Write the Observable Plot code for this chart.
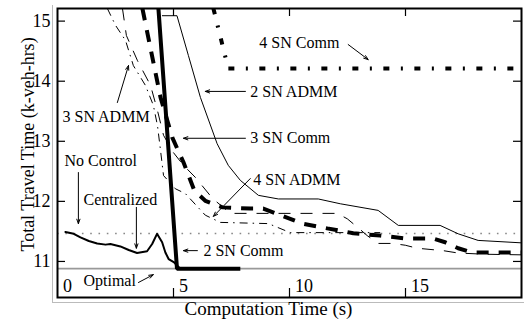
<!DOCTYPE html>
<html><head><meta charset="utf-8">
<script src="https://cdn.jsdelivr.net/npm/d3@7"></script>
<script src="https://cdn.jsdelivr.net/npm/@observablehq/plot@0.6"></script>
<style>body{margin:0;background:#fff;} svg{display:block}</style>
</head><body><div id="chart"></div>
<script>
// ---- data ----
const xTicks = [0, 5, 10, 15];
const yTicks = [11, 12, 13, 14, 15];
const xDomain = [0, 20];
const yDomain = [10.4, 15.21];
const optimal = 10.88;
const noControl = 11.465;

const centralized = [[0.34,11.49],[0.70,11.46],[0.99,11.40],[1.35,11.34],[1.71,11.30],[2.07,11.28],[2.28,11.29],[2.71,11.25],[3.07,11.19],[3.43,11.14],[3.86,11.17],[4.08,11.29],[4.29,11.46],[4.51,11.32],[4.65,11.15],[4.79,11.04],[5.01,10.99],[5.16,10.93],[5.3,10.88]];
const comm2SN = [[4.35,15.21],[5.15,10.88],[7.88,10.88]];
const admm2SN = [[4.52,15.09],[5.15,15.09],[5.64,14.43],[6.16,13.73],[6.88,12.96],[7.36,12.60],[7.88,12.35],[8.66,12.10],[9.52,12.04],[11.24,12.04],[12.19,11.96],[13.82,11.85],[14.69,11.60],[16.49,11.60],[17.27,11.46],[18.13,11.35],[19.98,11.31]];
const comm3SN = [[3.66,15.21],[4.44,13.73],[4.95,13.06],[5.43,12.65],[5.90,12.18],[6.37,12.01],[7.11,11.90],[8.31,11.88],[8.87,11.88],[10.03,11.71],[10.55,11.63],[11.63,11.55],[12.75,11.47],[13.91,11.43],[15.07,11.38],[16.19,11.38],[16.71,11.32],[17.27,11.22],[17.87,11.15],[19.98,11.15]];
const admm3SN = [[2.15,15.21],[2.50,14.93],[2.93,14.68],[3.27,14.26],[3.79,13.93],[4.13,13.60],[4.31,13.26],[4.44,12.85],[4.57,12.43],[5.08,12.21],[5.51,12.13],[6.37,11.77],[7.02,11.65],[9.09,11.63],[10.03,11.48],[13.91,11.48]];
const comm4SN = [[6.72,15.21],[7.36,14.21],[19.98,14.21]];
const admm4SN = [[2.80,15.21],[2.97,14.76],[3.45,14.34],[4.01,13.93],[4.31,13.51],[4.57,13.10],[5.00,12.81],[5.43,12.60],[5.94,12.40],[6.68,12.05],[7.45,11.80],[12.06,11.80],[12.49,11.71],[12.96,11.56],[13.35,11.43],[13.82,11.30],[14.43,11.30],[14.99,11.27],[15.50,11.22],[16.62,11.18],[17.27,11.14],[18.43,11.12],[19.98,11.11]];

const labels = ["4 SN Comm","2 SN ADMM","3 SN Comm","3 SN ADMM","No Control","Centralized","2 SN Comm","Optimal","4 SN ADMM"];
// annotation layout (label anchor and arrow ends, in chart units)
const labelAt = [[8.70,14.644],[8.31,13.83],[8.31,13.05],[0.215,13.40],[0.30,12.68],[1.12,12.03],[6.29,11.18],[1.12,10.68],[8.44,12.35]];
const arrowAt = [[12.53,14.61,13.39,14.36],[8.10,13.83,6.37,13.83],[8.10,13.05,5.43,13.05],[2.58,13.645,3.06,14.26],[0.90,12.48,0.90,11.63],[3.40,11.90,3.40,11.22],[6.03,11.18,5.43,11.18],[3.49,10.65,4.13,10.78],[8.31,12.38,6.72,11.75]];

// ---- layout ----
const W = 524, H = 322, mL = 57, mR = 3, mT = 8, mB = 25;
const fw = W - mL - mR, fh = H - mT - mB;
const font = "'Liberation Serif', 'Times New Roman', serif";
const X = d => d[0], Y = d => d[1];
const ann = labels.map((t, i) => ({t, x: labelAt[i][0], y: labelAt[i][1]}));

const chart = Plot.plot({
  width: W, height: H,
  marginLeft: mL, marginRight: mR, marginTop: mT, marginBottom: mB,
  x: {domain: xDomain, axis: null},
  y: {domain: yDomain, axis: null},
  style: {fontFamily: font, background: "white", overflow: "visible"},
  marks: [
    Plot.ruleX([xDomain[0]], {stroke: "#bbb", strokeWidth: 1, dx: -5, insetTop: -3, insetBottom: -5}),
    Plot.ruleY([yDomain[0]], {stroke: "#bbb", strokeWidth: 1, dy: 5, insetLeft: -5, insetRight: -3}),
    Plot.ruleY([optimal], {stroke: "#999", strokeWidth: 1.8}),
    Plot.ruleY([noControl], {stroke: "#888", strokeWidth: 1.6, strokeDasharray: "1.6,6.7"}),
    Plot.line(admm2SN, {x: X, y: Y, stroke: "black", strokeWidth: 1, clip: true}),
    Plot.line(admm4SN, {x: X, y: Y, stroke: "black", strokeWidth: 1, strokeDasharray: "12,10", strokeLinecap: "butt", clip: true}),
    Plot.line(admm3SN, {x: X, y: Y, stroke: "black", strokeWidth: 1, strokeDasharray: "8,5,1.5,5", strokeLinecap: "butt", clip: true}),
    Plot.line(comm3SN, {x: X, y: Y, stroke: "black", strokeWidth: 4, strokeDasharray: "12,10", strokeLinecap: "butt", strokeLinejoin: "miter", clip: true}),
    Plot.line(comm4SN, {x: X, y: Y, stroke: "black", strokeWidth: 4, strokeDasharray: "6,11.5,2,11.5", strokeLinecap: "butt", clip: true}),
    Plot.line(centralized, {x: X, y: Y, stroke: "black", strokeWidth: 2}),
    Plot.line(comm2SN, {x: X, y: Y, stroke: "black", strokeWidth: 4, strokeLinecap: "butt", strokeLinejoin: "miter", clip: true}),
    // inward ticks
    Plot.ruleX(xTicks.slice(1), {x: d => d, stroke: "black", strokeWidth: 1.2, insetTop: fh - 9}),
    Plot.ruleX(xTicks.slice(1), {x: d => d, stroke: "black", strokeWidth: 1.2, insetBottom: fh - 8}),
    Plot.ruleY(yTicks, {y: d => d, stroke: "black", strokeWidth: 1.2, insetRight: fw - 8}),
    Plot.ruleY(yTicks, {y: d => d, stroke: "black", strokeWidth: 1.2, insetLeft: fw - 8}),
    Plot.frame({stroke: "black", strokeWidth: 2}),
    // tick labels
    Plot.text(yTicks, {y: d => d, text: d => String(d), frameAnchor: "left", dx: -7, textAnchor: "end", lineAnchor: "middle", fontSize: 18, fill: "black"}),
    Plot.text(xTicks, {x: d => d, text: d => String(d), frameAnchor: "bottom", dx: 5.5, dy: -11.5, textAnchor: "start", lineAnchor: "middle", fontSize: 18, fill: "black"}),
    // axis titles
    Plot.text(["Computation Time (s)"], {text: d => d, frameAnchor: "bottom", dx: -21, dy: 17, textAnchor: "middle", lineAnchor: "bottom", fontSize: 19, fill: "black"}),
    Plot.text(["Total Travel Time (k-veh-hrs)"], {text: d => d, frameAnchor: "left", rotate: -90, dx: -24, dy: -8.5, textAnchor: "middle", lineAnchor: "bottom", fontSize: 18, fill: "black"}),
    // annotations
    Plot.arrow(arrowAt, {x1: d => d[0], y1: d => d[1], x2: d => d[2], y2: d => d[3], stroke: "black", strokeWidth: 1, headLength: 7, headAngle: 40}),
    Plot.text(ann, {x: "x", y: "y", text: "t", textAnchor: "start", lineAnchor: "middle", fontSize: 16, fill: "black"})
  ]
});
document.getElementById("chart").appendChild(chart);
</script>
</body></html>
